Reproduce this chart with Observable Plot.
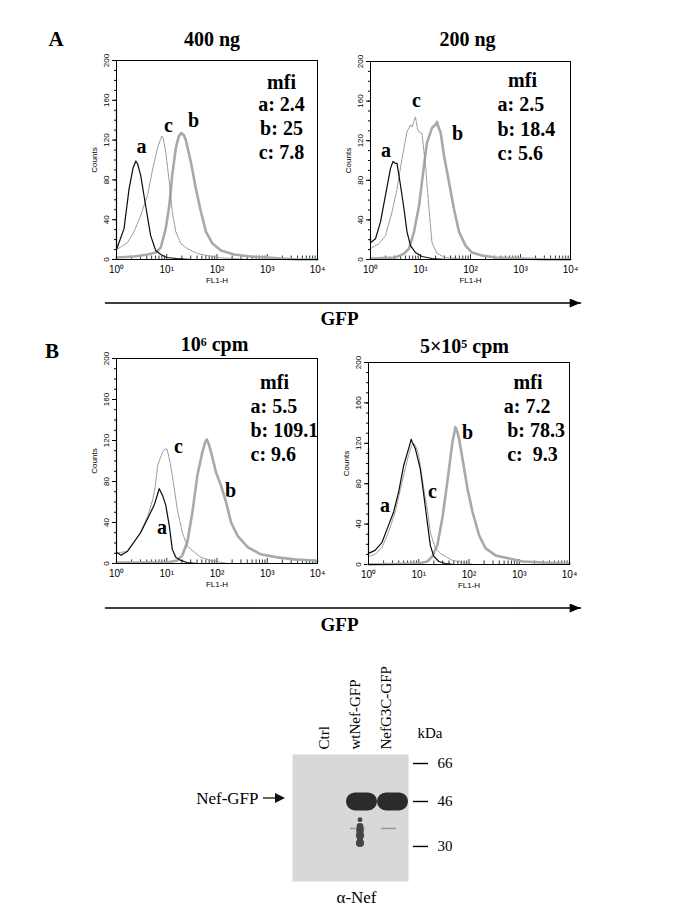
<!DOCTYPE html>
<html>
<head>
<meta charset="utf-8">
<script src="https://cdn.jsdelivr.net/npm/d3@7"></script>
<script src="https://cdn.jsdelivr.net/npm/@observablehq/plot@0.6"></script>
<style>
  body { margin: 0; background: #fff; }
  #fig { position: relative; width: 685px; height: 913px; overflow: hidden; background: #fff; }
  #fig svg { position: absolute; overflow: visible; }
</style>
</head>
<body>
<div id="fig"></div>
<script>
// ------------------------------------------------------------------
// DATA
// ------------------------------------------------------------------
const decades = [1, 10, 100, 1000, 10000];
const decadeLabels = ["10⁰", "10¹", "10²", "10³", "10⁴"];
const countTicks = [0, 40, 80, 120, 160, 200];
const countMinorTicks = [0, 10, 20, 30, 40, 50, 60, 70, 80, 90, 100, 110, 120, 130, 140, 150, 160, 170, 180, 190, 200];
const fl1Minor = [2, 3, 4, 5, 6, 7, 8, 9, 20, 30, 40, 50, 60, 70, 80, 90, 200, 300, 400, 500, 600, 700, 800, 900, 2000, 3000, 4000, 5000, 6000, 7000, 8000, 9000];

const rowLetters = ["A", "B"];
const panelTitles = ["400 ng", "200 ng", "10⁶ cpm", "5×10⁵ cpm"];
const curveNames = ["a", "b", "c"];

// mean fluorescence intensities: [a, b, c]
const mfi400ng = ["2.4", "25", "7.8"];
const mfi200ng = ["2.5", "18.4", "5.6"];
const mfi1e6cpm = ["5.5", "109.1", "9.6"];
const mfi5e5cpm = ["7.2", "78.3", "\u00a09.3"];

// histogram curves: [log10(FL1-H), counts]
const h400_a = [[0,150],[0,10],[0.15,31],[0.25,71],[0.33,92],[0.385,99],[0.42,96],[0.48,85],[0.58,54],[0.68,24],[0.78,9],[0.88,5],[1.0,2],[1.2,1],[1.5,0],[4,0]];
const h400_b = [[0,2],[0.35,3],[0.62,5],[0.78,7],[0.88,12],[0.98,31],[1.05,54],[1.11,85],[1.18,112],[1.24,124],[1.29,127],[1.34,125],[1.38,120],[1.48,98],[1.58,71],[1.68,48],[1.78,28],[1.91,16],[2.08,9],[2.34,5],[2.67,3],[3.0,2],[3.3,1],[3.6,0],[4,0]];
const h400_c = [[0,10],[0.1,13],[0.22,17],[0.35,28],[0.48,44],[0.62,65],[0.72,91],[0.82,113],[0.9,124],[0.93,122],[0.98,108],[1.05,78],[1.11,48],[1.18,28],[1.28,16],[1.41,11],[1.61,6],[1.81,4],[2.0,2],[2.3,1],[2.6,0],[4,0]];

const h200_a = [[0,24],[0,17],[0.1,21],[0.2,38],[0.3,65],[0.4,92],[0.45,99],[0.5,97],[0.53,97],[0.6,75],[0.67,51],[0.73,28],[0.8,14],[0.9,7],[1.03,3],[1.23,1],[1.5,0],[4,0]];
const h200_b = [[0,1],[0.5,2],[0.67,6],[0.77,11],[0.87,28],[0.97,54],[1.07,95],[1.13,118],[1.23,133],[1.3,136],[1.33,139],[1.37,132],[1.4,129],[1.47,105],[1.57,78],[1.67,51],[1.77,28],[1.9,14],[2.03,7],[2.23,4],[2.5,2],[3.03,1],[3.5,0],[4,0]];
const h200_c = [[0,11],[0.17,16],[0.3,24],[0.43,48],[0.53,71],[0.63,102],[0.73,129],[0.8,136],[0.83,134],[0.9,144],[0.94,132],[0.97,129],[1.03,127],[1.1,95],[1.17,51],[1.23,17],[1.33,6],[1.5,2],[1.7,1],[2,0],[4,0]];

const h1e6_a = [[0,142],[0,11],[0.09,8],[0.22,12],[0.35,21],[0.48,30],[0.62,44],[0.75,57],[0.82,68],[0.85,73],[0.92,66],[0.98,57],[1.05,37],[1.11,14],[1.18,6],[1.28,3],[1.4,1],[1.6,0],[4,0]];
const h1e6_b = [[0,1],[1.0,1],[1.21,3],[1.31,8],[1.41,21],[1.51,50],[1.61,86],[1.71,109],[1.77,119],[1.8,121],[1.84,116],[1.88,109],[1.98,89],[2.08,76],[2.18,60],[2.28,40],[2.41,27],[2.61,16],[2.87,9],[3.2,6],[3.54,4],[3.93,3],[4,2]];
const h1e6_c = [[0,10],[0.22,12],[0.35,21],[0.48,31],[0.62,46],[0.72,62],[0.77,75],[0.82,96],[0.92,109],[0.97,112],[1.01,111],[1.06,100],[1.11,86],[1.21,53],[1.31,30],[1.41,17],[1.55,11],[1.68,6],[1.88,3],[2.2,0],[4,0]];

const h5e5_a = [[0,115],[0,11],[0.13,14],[0.27,22],[0.4,39],[0.5,52],[0.6,72],[0.7,98],[0.8,115],[0.85,124],[0.87,121],[0.93,115],[1.03,95],[1.1,69],[1.17,42],[1.23,19],[1.3,8],[1.4,3],[1.53,1],[1.7,0],[4,0]];
const h5e5_b = [[0,0],[1.0,1],[1.17,3],[1.27,8],[1.37,19],[1.47,46],[1.57,82],[1.67,121],[1.73,136],[1.77,131],[1.8,125],[1.87,105],[1.97,75],[2.07,52],[2.2,29],[2.33,16],[2.53,9],[2.8,6],[3.07,3],[3.47,2],[3.9,1],[4,1]];
const h5e5_c = [[0,8],[0.13,10],[0.27,17],[0.4,32],[0.53,52],[0.67,82],[0.8,109],[0.86,118],[0.9,120],[0.95,116],[1.0,108],[1.1,75],[1.17,55],[1.23,32],[1.33,16],[1.43,11],[1.53,8],[1.67,4],[1.87,2],[2.1,0],[4,0]];

// Western blot
const lanes = ["Ctrl", "wtNef-GFP", "NefG3C-GFP"];
const markerKDa = [66, 46, 30];
const mainBands = [{lane: "wtNef-GFP", kDa: 46}, {lane: "NefG3C-GFP", kDa: 46}];
const minorBands = [{lane: "wtNef-GFP", kDa: 35.6}, {lane: "NefG3C-GFP", kDa: 35.6}];
const spots = [
  {lane: "wtNef-GFP", kDa: 38.7, size: 0.8},
  {lane: "wtNef-GFP", kDa: 36.3, size: 1.6},
  {lane: "wtNef-GFP", kDa: 34.9, size: 2.0},
  {lane: "wtNef-GFP", kDa: 33.3, size: 2.3},
  {lane: "wtNef-GFP", kDa: 32.1, size: 1.1},
  {lane: "wtNef-GFP", kDa: 31.0, size: 2.3}
];

// ------------------------------------------------------------------
// STYLE / LAYOUT
// ------------------------------------------------------------------
const sans = "'Liberation Sans', Arial, Helvetica, sans-serif";
const serif = "'Liberation Serif', 'Times New Roman', Times, serif";
const ML = 40, MR = 20, MT = 30, MB = 30;
const fig = document.getElementById("fig");
const mid = {textAnchor: "middle", lineAnchor: "middle"};

const panels = [
  { title: panelTitles[0], letter: rowLetters[0], mfi: mfi400ng, curves: {a: h400_a, b: h400_b, c: h400_c},
    frame: {left: 116, top: 60, right: 317, bottom: 259},
    titlePos: [211.5, 38.6], letterPos: [55.5, 38.6],
    labelPos: {a: [141, 146], b: [193, 120], c: [168, 125]},
    mfiPos: [[281, 82, "middle"], [281, 103.6, "middle"], [281, 127.6, "middle"], [281, 152, "middle"]] },
  { title: panelTitles[1], letter: null, mfi: mfi200ng, curves: {a: h200_a, b: h200_b, c: h200_c},
    frame: {left: 370, top: 61, right: 570, bottom: 259},
    titlePos: [467, 38.6],
    labelPos: {a: [385.5, 150.5], b: [457, 132.6], c: [416, 100]},
    mfiPos: [[522, 80.3, "middle"], [497, 104.3, "start"], [497, 128.6, "start"], [497, 153, "start"]] },
  { title: panelTitles[2], letter: rowLetters[1], mfi: mfi1e6cpm, curves: {a: h1e6_a, b: h1e6_b, c: h1e6_c},
    frame: {left: 116, top: 358, right: 317, bottom: 563},
    titlePos: [214, 343.6], letterPos: [51.5, 350.6],
    labelPos: {a: [161.5, 526.6], b: [230, 489.6], c: [178, 445.6]},
    mfiPos: [[274, 381.6, "middle"], [250, 406.3, "start"], [250, 430.3, "start"], [250, 454.3, "start"]] },
  { title: panelTitles[3], letter: null, mfi: mfi5e5cpm, curves: {a: h5e5_a, b: h5e5_b, c: h5e5_c},
    frame: {left: 368, top: 362, right: 569, bottom: 564},
    titlePos: [464, 345.6],
    labelPos: {a: [384.5, 505], b: [467, 432], c: [432, 491]},
    mfiPos: [[527.5, 382, "middle"], [503.3, 406.3, "start"], [506.7, 430.3, "start"], [506.7, 454.3, "start"]] }
];

const curveStyle = {
  a: {stroke: "#0a0a0a", strokeWidth: 1.2},
  b: {stroke: "#a9a9a9", strokeWidth: 2.6},
  c: {stroke: "#8e8e8e", strokeWidth: 1, strokeDasharray: "1.3,1.1"}
};

function place(svg, left, top) {
  svg.style.left = left + "px";
  svg.style.top = top + "px";
  fig.appendChild(svg);
}

function histogram(p) {
  const f = p.frame;
  const W = f.right - f.left + ML + MR, H = f.bottom - f.top + MT + MB;
  const rows = pairs => pairs.map(([lx, n]) => ({fl1: 10 ** lx, n}));
  const at = ([px, py]) => ({frameAnchor: "top-left", dx: px - f.left, dy: py - f.top, ...mid});
  const bold = {fontFamily: serif, fontWeight: "bold", fontSize: 20, fill: "#000"};
  const mfiTexts = ["mfi", ...curveNames.map((k, i) => `${k}: ${p.mfi[i]}`)];
  const marks = [
    Plot.ruleX(fl1Minor, {x: d => d, y1: 0, y2: 3.5, stroke: "#000", strokeWidth: 0.8}),
    Plot.ruleX(decades, {x: d => d, y1: 0, y2: 5, stroke: "#000", strokeWidth: 0.8}),
    Plot.axisX({ticks: decades, tickFormat: d => decadeLabels[decades.indexOf(d)], tickSize: 0, tickPadding: 6, fontSize: 10, label: null}),
    Plot.axisY({ticks: countMinorTicks, tickSize: 2, tickFormat: () => "", label: null}),
    Plot.axisY({ticks: countTicks, tickSize: 4, tickFormat: () => "", label: null}),
    Plot.text(countTicks, {y: d => d, text: d => String(d), frameAnchor: "left", rotate: -90, dx: -10, fontSize: 8, ...mid}),
    Plot.text(["Counts"], {text: d => d, frameAnchor: "left", rotate: -90, dx: -22, fontSize: 8, ...mid}),
    Plot.text(["FL1-H"], {text: d => d, frameAnchor: "bottom", dy: 21, fontSize: 8, ...mid}),
    Plot.line(rows(p.curves.b), {x: "fl1", y: "n", ...curveStyle.b}),
    Plot.line(rows(p.curves.c), {x: "fl1", y: "n", ...curveStyle.c}),
    Plot.line(rows(p.curves.a), {x: "fl1", y: "n", ...curveStyle.a}),
    Plot.frame({stroke: "#000", strokeWidth: 1}),
    ...curveNames.map(k => Plot.text([k], {text: d => d, ...at(p.labelPos[k]), ...bold})),
    ...mfiTexts.map((t, i) => Plot.text([t], {text: d => d, ...at(p.mfiPos[i]), textAnchor: p.mfiPos[i][2], ...bold})),
    Plot.text([p.title], {text: d => d, ...at(p.titlePos), ...bold})
  ];
  if (p.letter) marks.push(Plot.text([p.letter], {text: d => d, ...at(p.letterPos), ...bold, fontSize: 21}));
  const svg = Plot.plot({
    width: W, height: H,
    marginLeft: ML, marginRight: MR, marginTop: MT, marginBottom: MB,
    x: {type: "log", domain: [1, 1e4], label: null},
    y: {domain: [0, 200], label: null},
    style: {fontFamily: sans, fontSize: "8px", background: "transparent", overflow: "visible", color: "#000"},
    marks
  });
  place(svg, f.left - ML, f.top - MT);
}

panels.forEach(histogram);

// filled arrowhead marker
function headMarker(color) {
  const ns = "http://www.w3.org/2000/svg";
  const m = document.createElementNS(ns, "marker");
  m.setAttribute("viewBox", "0 0 12 10");
  m.setAttribute("markerWidth", 13);
  m.setAttribute("markerHeight", 9);
  m.setAttribute("refX", 12);
  m.setAttribute("refY", 5);
  m.setAttribute("orient", "auto");
  m.setAttribute("markerUnits", "userSpaceOnUse");
  const path = document.createElementNS(ns, "path");
  path.setAttribute("d", "M0,0L12,5L0,10Z");
  path.setAttribute("fill", color);
  path.setAttribute("stroke", "none");
  m.appendChild(path);
  return m;
}

// GFP axis arrows below each row
const gfpAxis = [{x: 0, y: 0}, {x: 1, y: 0}];
function gfpArrow(top, labelDy) {
  const svg = Plot.plot({
    width: 685, height: 40, margin: 0,
    x: {domain: [0, 1], range: [105, 580], axis: null},
    y: {domain: [0, 1], range: [12.5, 0], axis: null},
    style: {background: "transparent", overflow: "visible"},
    marks: [
      Plot.line(gfpAxis, {x: "x", y: "y", stroke: "#000", strokeWidth: 1.6, markerEnd: headMarker}),
      Plot.text(["GFP"], {text: d => d, frameAnchor: "top-left", dx: 339, dy: labelDy, ...mid, fontFamily: serif, fontWeight: "bold", fontSize: 19, fill: "#000"})
    ]
  });
  place(svg, 0, top);
}
gfpArrow(290, 28.6);
gfpArrow(594.5, 29.4);

// ------------------------------------------------------------------
// Western blot
// ------------------------------------------------------------------
function nefArrow(index, scales, values, dims) {
  const ns = "http://www.w3.org/2000/svg";
  const g = document.createElementNS(ns, "g");
  const y = scales.y(46) - 3;
  const x0 = dims.marginLeft - 29, x1 = dims.marginLeft - 7;
  const line = document.createElementNS(ns, "line");
  line.setAttribute("x1", x0); line.setAttribute("x2", x1 - 6);
  line.setAttribute("y1", y); line.setAttribute("y2", y);
  line.setAttribute("stroke", "#111"); line.setAttribute("stroke-width", 1.3);
  const head = document.createElementNS(ns, "path");
  head.setAttribute("d", `M${x1 - 10},${y - 5}L${x1},${y}L${x1 - 10},${y + 5}Z`);
  head.setAttribute("fill", "#111");
  g.appendChild(line); g.appendChild(head);
  return g;
}

const blotLeft = 180, blotTop = 660;
const blotSvg = Plot.plot({
  width: 300, height: 245,
  marginLeft: 112, marginRight: 72, marginTop: 94, marginBottom: 24,
  x: {type: "band", domain: lanes, range: [135, 228], padding: 0, axis: null},
  y: {type: "log", domain: [21.5, 71.9], axis: null},
  style: {fontFamily: serif, background: "transparent", overflow: "visible", color: "#000"},
  marks: [
    Plot.frame({fill: "#d8d8d8", stroke: "none"}),
    Plot.tickY(minorBands, {x: "lane", y: "kDa", stroke: "#8a8a8a", strokeWidth: 1.5, insetLeft: 4, insetRight: 12, strokeOpacity: 0.8}),
    Plot.tickY(mainBands, {x: "lane", y: "kDa", stroke: "#2b2b2b", strokeWidth: 18, strokeLinecap: "round", inset: 9}),
    Plot.dot(spots, {x: "lane", y: "kDa", r: "size", fill: "#444", stroke: "none", dx: -2}),
    Plot.text(lanes, {x: d => d, text: d => d, frameAnchor: "top", rotate: -90, textAnchor: "start", lineAnchor: "middle", dy: -5, dx: -7, fontSize: 15, fill: "#000"}),
    Plot.ruleY(markerKDa, {y: d => d, insetLeft: 121, insetRight: -20, stroke: "#000", strokeWidth: 1.4}),
    Plot.text(markerKDa, {y: d => d, text: d => String(d), frameAnchor: "right", dx: 29, textAnchor: "start", lineAnchor: "middle", fontSize: 15, fill: "#000"}),
    Plot.text(["kDa"], {text: d => d, frameAnchor: "top-right", dx: 9, dy: -21, textAnchor: "start", lineAnchor: "middle", fontSize: 15, fill: "#000"}),
    Plot.text([46], {y: d => d, text: () => "Nef-GFP", frameAnchor: "left", dx: -34, dy: -3, textAnchor: "end", lineAnchor: "middle", fontSize: 17, fill: "#000"}),
    nefArrow,
    Plot.text(["α-Nef"], {text: d => d, frameAnchor: "bottom", dx: 6, dy: 16, ...mid, fontSize: 17, fill: "#000"})
  ]
});
place(blotSvg, blotLeft, blotTop);
</script>
</body>
</html>
